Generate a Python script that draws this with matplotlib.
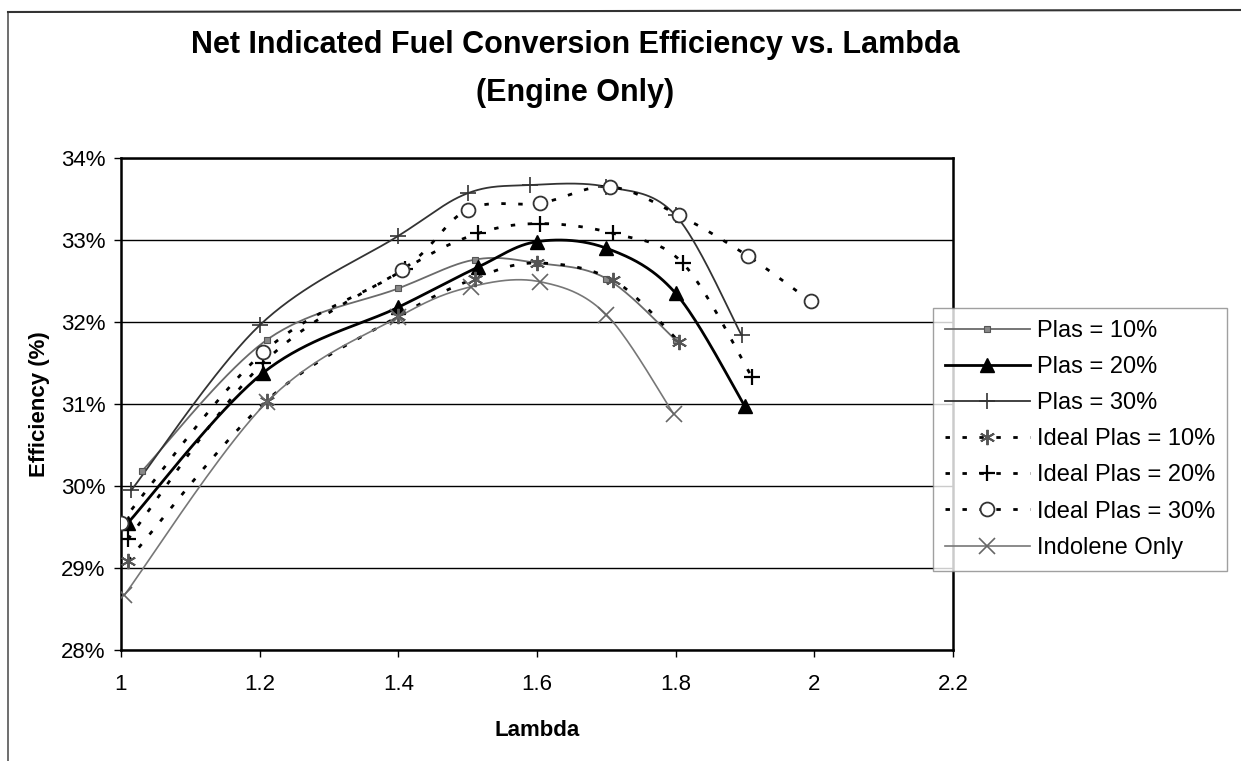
import numpy as np
import matplotlib
matplotlib.use('Agg')
import matplotlib.pyplot as plt
from matplotlib.lines import Line2D
from matplotlib.ticker import FuncFormatter

plt.rcParams['font.family'] = ['Liberation Sans', 'DejaVu Sans']

# data (lambda, efficiency %)
plas10_x = [1.03, 1.21, 1.40, 1.51, 1.60, 1.70, 1.80]
plas10_y = [30.18, 31.78, 32.41, 32.76, 32.72, 32.53, 31.78]

plas20_x = [1.01, 1.205, 1.40, 1.515, 1.60, 1.70, 1.80, 1.90]
plas20_y = [29.55, 31.38, 32.18, 32.67, 32.98, 32.90, 32.35, 30.97]

plas30_x = [1.015, 1.20, 1.40, 1.50, 1.59, 1.70, 1.80, 1.895]
plas30_y = [29.95, 31.96, 33.05, 33.57, 33.67, 33.65, 33.30, 31.84]

ideal10_x = [1.01, 1.21, 1.40, 1.51, 1.60, 1.71, 1.805]
ideal10_y = [29.09, 31.04, 32.07, 32.53, 32.72, 32.51, 31.76]

ideal20_x = [1.01, 1.205, 1.41, 1.515, 1.605, 1.71, 1.81, 1.91]
ideal20_y = [29.35, 31.50, 32.65, 33.08, 33.20, 33.08, 32.72, 31.33]

ideal30_x = [1.00, 1.205, 1.405, 1.50, 1.605, 1.705, 1.805, 1.905, 1.995]
ideal30_y = [29.55, 31.63, 32.63, 33.37, 33.45, 33.65, 33.30, 32.80, 32.25]

indolene_x = [1.005, 1.21, 1.40, 1.505, 1.605, 1.70, 1.797]
indolene_y = [28.67, 31.02, 32.06, 32.43, 32.49, 32.09, 30.88]

labels = ['Plas = 10%', 'Plas = 20%', 'Plas = 30%', 'Ideal Plas = 10%',
          'Ideal Plas = 20%', 'Ideal Plas = 30%', 'Indolene Only']


def smooth(ax, x, y, n=40):
    # Excel style smoothed line: bezier through the points, done in pixel space
    pts = ax.transData.transform(np.column_stack([x, y]))
    p = np.vstack([pts[0], pts, pts[-1]])
    out = [pts[0]]
    t = np.linspace(0, 1, n)[1:, None]
    for i in range(1, len(p) - 2):
        p0, p1, p2, p3 = p[i - 1], p[i], p[i + 1], p[i + 2]
        c1 = p1 + (p2 - p0) / 6
        c2 = p2 - (p3 - p1) / 6
        seg = ((1 - t) ** 3) * p1 + 3 * ((1 - t) ** 2) * t * c1 + 3 * (1 - t) * t ** 2 * c2 + t ** 3 * p2
        out.extend(seg)
    out = ax.transData.inverted().transform(np.array(out))
    return out[:, 0], out[:, 1]


fig = plt.figure(figsize=(12.41, 7.61), dpi=100)
ax = fig.add_axes([121 / 1241, 1 - 650 / 761, (953 - 121) / 1241, (650 - 158) / 761])
ax.set_xlim(1, 2.2)
ax.set_ylim(28, 34)

dots = (0, (1.6, 4.5))
series = [
    (plas10_x, plas10_y, dict(color='#6a6a6a', lw=1.3, ls='-'),
     dict(marker='s', ms=4, mfc='#888888', mec='#555555', mew=0.8)),
    (plas20_x, plas20_y, dict(color='black', lw=2.0, ls='-'),
     dict(marker='^', ms=10, mfc='black', mec='black')),
    (plas30_x, plas30_y, dict(color='#333333', lw=1.3, ls='-'),
     dict(marker='+', ms=11, mec='#333333', mew=1.2)),
    (ideal10_x, ideal10_y, dict(color='black', lw=2.0, ls=dots),
     dict(marker=(6, 2, 0), ms=11, mec='#555555', mew=1.4)),
    (ideal20_x, ideal20_y, dict(color='black', lw=2.0, ls=dots),
     dict(marker='+', ms=12, mec='black', mew=1.6)),
    (ideal30_x, ideal30_y, dict(color='black', lw=2.0, ls=dots),
     dict(marker='o', ms=10, mfc='white', mec='#333333', mew=1.3)),
    (indolene_x, indolene_y, dict(color='#777777', lw=1.2, ls='-'),
     dict(marker='x', ms=11, mec='#666666', mew=1.2)),
]

handles = []
for (x, y, lstyle, mstyle), lab in zip(series, labels):
    sx, sy = smooth(ax, x, y)
    ax.plot(sx, sy, zorder=3, **lstyle)
    ax.plot(x, y, ls='none', zorder=4, **mstyle)
    handles.append(Line2D([], [], **lstyle, **mstyle))

ax.set_yticks(np.arange(28, 34.1, 1))
ax.set_xticks(np.arange(1, 2.21, 0.2))
ax.yaxis.set_major_formatter(FuncFormatter(lambda v, p: '%d%%' % round(v)))
ax.xaxis.set_major_formatter(FuncFormatter(lambda v, p: '%g' % round(v, 1)))
ax.grid(axis='y', color='black', lw=1.0)
ax.set_axisbelow(True)
for s in ax.spines.values():
    s.set_linewidth(1.8)
ax.tick_params(axis='both', labelsize=16, length=5, width=1, direction='out', colors='black')
ax.tick_params(axis='x', pad=12)
ax.tick_params(axis='y', pad=6)

ax.set_xlabel('Lambda', fontsize=16, fontweight='bold', labelpad=18)
ax.set_ylabel('Efficiency (%)', fontsize=16, fontweight='bold', labelpad=8)

fig.text(575 / 1241, 1 - 45 / 761, 'Net Indicated Fuel Conversion Efficiency vs. Lambda',
         ha='center', va='center', fontsize=22, fontweight='bold')
fig.text(575 / 1241, 1 - 93 / 761, '(Engine Only)',
         ha='center', va='center', fontsize=22, fontweight='bold')

leg = fig.legend(handles, labels, loc='upper left',
                 bbox_to_anchor=(933 / 1241, 1 - 308 / 761), borderaxespad=0,
                 fontsize=17, frameon=True, fancybox=False, handlelength=3.6,
                 labelspacing=0.6, borderpad=0.5, handletextpad=0.3)
leg.get_frame().set_edgecolor('#888888')
leg.get_frame().set_linewidth(1.0)

# chart area border
fig.add_artist(Line2D([8 / 1241, 8 / 1241], [0, 1 - 12 / 761], transform=fig.transFigure,
                      color='#555555', lw=1.2))
fig.add_artist(Line2D([8 / 1241, 1], [1 - 12 / 761, 1 - 10 / 761], transform=fig.transFigure,
                      color='#333333', lw=1.5))

fig.savefig('out.png', dpi=100)
